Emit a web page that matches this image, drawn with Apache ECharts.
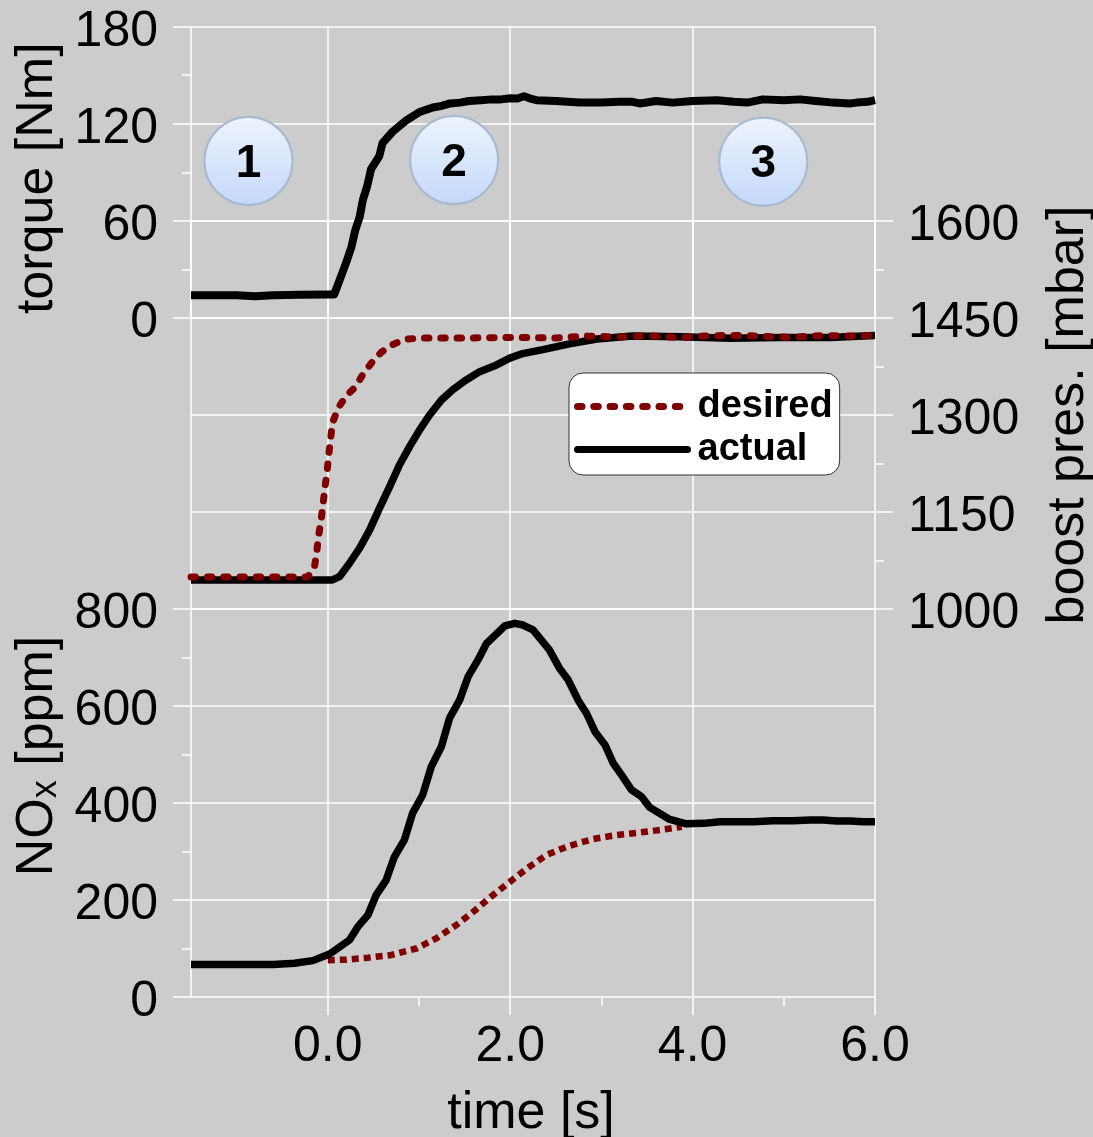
<!DOCTYPE html>
<html>
<head>
<meta charset="utf-8">
<style>html,body{margin:0;padding:0;background:#cccccc}#c{width:1093px;height:1137px}</style>
<script src="https://cdn.jsdelivr.net/npm/echarts@6/dist/echarts.min.js"></script>
</head>
<body>
<div id="c"></div>
<script>
const torqueT = [-1.5,-1.0,-0.8,-0.6,-0.3,0.0,0.07,0.15,0.2,0.26,0.3,0.35,0.385,0.43,0.475,0.565,0.6,0.71,0.86,1.0,1.15,1.25,1.34,1.45,1.55,1.68,1.8,1.9,2.0,2.08,2.15,2.22,2.29,2.5,2.76,3.0,3.2,3.34,3.42,3.6,3.78,4.0,4.27,4.45,4.6,4.77,5.0,5.18,5.35,5.54,5.72,5.8,5.92,6.0];
const torqueV = [14,14,13.5,14,14.3,14.5,14.5,26.5,34,44,54,62.5,73,81,92,100,108,115,122,127,130,131,132.5,133,134,134.5,135,135,135.7,135.5,137,135.5,134.5,134,133,133,133.5,133.5,132.5,134,133,134,134.5,133.5,133,135,134.5,135,134,133,132.5,133,133.5,134.5];
const boostDesiredT = [-1.5,-0.22,-0.146,-0.12,-0.1,-0.072,-0.05,-0.03,-0.007,0.01,0.03,0.05,0.114,0.198,0.307,0.39,0.487,0.586,0.714,0.84,1.007,1.5,2.03,2.5,2.84,3.17,3.53,3.86,4.19,4.54,5.07,5.43,5.78,6.0];
const boostDesiredV = [1049.5,1049.5,1065,1090,1114,1139,1164,1189,1214,1238,1262,1287,1311,1329,1344,1364,1382,1397,1409,1417,1419,1419,1420,1419,1422,1420.6,1422.6,1419.5,1422.6,1423,1420,1423,1422,1423.5];
const boostActualT = [-1.5,0.05,0.128,0.238,0.348,0.458,0.567,0.677,0.787,0.897,1.007,1.116,1.245,1.37,1.5,1.665,1.83,1.995,2.137,2.357,2.65,2.95,3.34,3.86,4.41,4.96,5.5,6.0];
const boostActualV = [1045,1045,1050,1070.7,1094,1122,1156,1189,1223,1251,1277,1300,1323,1339,1352.5,1367,1376,1388,1395,1401,1410,1417.5,1422,1421,1418.7,1420,1420,1423];
const noxDesiredT = [0.0,0.2,0.44,0.695,0.97,1.19,1.41,1.61,1.79,2.0,2.195,2.4,2.635,2.91,3.17,3.44,3.7,3.88];
const noxDesiredV = [76,77,81,86.6,100,121,148.5,178,207,238,266.6,293,311,325.8,334,339.6,345.8,351];
const noxActualT = [-1.5,-0.6,-0.365,-0.165,0.02,0.238,0.33,0.44,0.53,0.64,0.73,0.84,0.93,1.04,1.135,1.245,1.335,1.445,1.537,1.647,1.74,1.94,2.05,2.14,2.25,2.43,2.54,2.635,2.745,2.836,2.93,3.04,3.13,3.22,3.33,3.44,3.53,3.75,3.93,4.12,4.3,4.67,4.88,5.1,5.29,5.43,5.58,5.73,5.87,6.0];
const noxActualV = [67,67,69.5,75,88.7,117.5,145,169,210,241,289,324,379,416.5,475,516,575,612,660,695,729,765,770.5,767,757,715.5,678,654,612,585,547,519.6,482,458,427,413,391,366,357,358,361.5,361.5,363.5,363.5,365,365,363,363,361.5,361.5];
const timeTicks = [0,2,4,6];
const timeMinor = [1,3,5];
const timeEdge = -1.5;
const timeEnd = 6;
const torqueTicks = [0,60,120,180];
const torqueMinor = [30,90,150];
const boostTicks = [1000,1150,1300,1450,1600];
const boostMinor = [1075,1225,1375,1525];
const noxTicks = [0,200,400,600,800];
const noxMinor = [100,300,500,700];
const phaseLabels = ['1','2','3'];
const phaseT = [-0.87,1.385,4.775];
const phaseTorque = [97,97.5,96.5];

const zip = (a,b) => a.map((v,i)=>[v,b[i]]);
const WHITE = '#ffffff';
const FS = 50;
const NS = 52;
const FONT = '"Liberation Sans", Arial, sans-serif';

function vLines(gridIndex){
  return {type:'value',gridIndex,min:timeEdge,max:timeEnd,
    axisLine:{show:false,onZero:false},axisLabel:{show:false},
    axisTick:{show:false,customValues:[timeEdge].concat(timeTicks)},
    splitLine:{show:true,showMinLine:true,showMaxLine:true,lineStyle:{color:WHITE,width:1.5}}};
}
function yMain(gridIndex,min,max,ticks,position,extra){
  return Object.assign({type:'value',gridIndex,min,max,position,
    axisLine:{show:false,onZero:false},
    axisTick:{show:true,length:18,customValues:ticks,lineStyle:{color:WHITE,width:1.5}},
    axisLabel:{show:true,customValues:ticks,color:'#000',fontSize:FS,fontFamily:FONT,margin:33,verticalAlign:'top',lineHeight:11,hideOverlap:false,showMinLabel:true,showMaxLabel:true,formatter:v=>String(v)},
    splitLine:{show:true,showMinLine:true,showMaxLine:true,lineStyle:{color:WHITE,width:1.5}},
    nameLocation:'middle',nameRotate:90},extra);
}
function yMinor(gridIndex,min,max,ticks,position){
  return {type:'value',gridIndex,min,max,position,
    axisLine:{show:false,onZero:false},axisLabel:{show:false},splitLine:{show:false},
    axisTick:{show:true,length:9,customValues:ticks,lineStyle:{color:WHITE,width:1.5}}};
}

const option = {
  backgroundColor:'#cccccc',
  animation:false,
  textStyle:{fontFamily:FONT},
  grid:[
    {left:191,right:218,top:26.5,height:291.5,outerBoundsMode:'none'},
    {left:191,right:218,top:221,height:388,outerBoundsMode:'none'},
    {left:191,right:218,top:609,height:388,outerBoundsMode:'none'}
  ],
  xAxis:[
    vLines(0),vLines(1),vLines(2),
    {type:'value',gridIndex:2,min:timeEdge,max:timeEnd,position:'bottom',
      axisLine:{show:false,onZero:false},splitLine:{show:false},
      axisTick:{show:true,length:18,customValues:timeTicks,lineStyle:{color:WHITE,width:1.5}},
      axisLabel:{show:true,customValues:timeTicks,color:'#000',fontSize:FS,fontFamily:FONT,margin:25,formatter:v=>Number(v).toFixed(1)},
      name:'time [s]',nameLocation:'middle',nameGap:91,
      nameTextStyle:{color:'#000',fontSize:NS,fontFamily:FONT,padding:[0,4,0,0]}},
    {type:'value',gridIndex:2,min:timeEdge,max:timeEnd,position:'bottom',
      axisLine:{show:false,onZero:false},splitLine:{show:false},axisLabel:{show:false},
      axisTick:{show:true,length:9,customValues:timeMinor,lineStyle:{color:WHITE,width:1.5}}}
  ],
  yAxis:[
    yMain(0,0,180,torqueTicks,'left',{name:'torque [Nm]',nameGap:121,
      nameTextStyle:{color:'#000',fontSize:NS,fontFamily:FONT,padding:[0,12,0,0]}}),
    yMinor(0,0,180,torqueMinor,'left'),
    yMain(1,1000,1600,boostTicks,'right',{name:'boost pres. [mbar]',nameGap:168,
      nameTextStyle:{color:'#000',fontSize:NS,fontFamily:FONT}}),
    yMinor(1,1000,1600,boostMinor,'right'),
    yMain(2,0,800,noxTicks,'left',{name:'{n|NO}{s|x}{n| [ppm]}',nameGap:127,
      nameTextStyle:{color:'#000',fontSize:NS,fontFamily:FONT,padding:[0,0,0,94],
        rich:{n:{fontSize:NS,fontFamily:FONT,color:'#000'},s:{fontSize:36,fontFamily:FONT,color:'#000',verticalAlign:'bottom',padding:[16,0,0,0]}}}}),
    yMinor(2,0,800,noxMinor,'left')
  ],
  legend:{
    show:true,left:569,top:373,orient:'vertical',
    data:['desired','actual'],
    backgroundColor:'#ffffff',borderColor:'#333333',borderWidth:1,borderRadius:14,
    padding:[12,7,4,5],itemWidth:110,itemHeight:14,itemGap:0,align:'left',
    selectedMode:false,z:20,
    itemStyle:{opacity:0},
    lineStyle:{width:7,cap:'round'},
    textStyle:{color:'#000',fontSize:38,fontWeight:'bold',fontFamily:FONT,lineHeight:43,padding:[0,0,0,5]}
  },
  series:[
    {name:'torque',type:'line',xAxisIndex:0,yAxisIndex:0,data:zip(torqueT,torqueV),showSymbol:false,symbol:'none',
      lineStyle:{color:'#000',width:8,join:'round'},itemStyle:{color:'#000'},z:3},
    {name:'actual',type:'line',xAxisIndex:1,yAxisIndex:2,data:zip(boostActualT,boostActualV),showSymbol:false,symbol:'none',
      lineStyle:{color:'#000',width:7.5,join:'round'},itemStyle:{color:'#000'},z:3},
    {name:'desired',type:'line',xAxisIndex:1,yAxisIndex:2,data:zip(boostDesiredT,boostDesiredV),showSymbol:false,symbol:'none',
      lineStyle:{color:'#800000',width:7,type:[4.5,11.8],cap:'round',join:'round'},itemStyle:{color:'#800000'},z:4},
    {name:'NOx desired',type:'line',xAxisIndex:2,yAxisIndex:4,data:zip(noxDesiredT,noxDesiredV),showSymbol:false,symbol:'none',
      lineStyle:{color:'#800000',width:6.5,type:[7,5],cap:'butt'},itemStyle:{color:'#800000'},z:3},
    {name:'NOx actual',type:'line',xAxisIndex:2,yAxisIndex:4,data:zip(noxActualT,noxActualV),showSymbol:false,symbol:'none',
      lineStyle:{color:'#000',width:7.5,join:'round'},itemStyle:{color:'#000'},z:4},
    {name:'phases',type:'scatter',xAxisIndex:0,yAxisIndex:0,z:6,symbol:'circle',symbolSize:88,
      data:phaseT.map((t,i)=>({value:[t,phaseTorque[i]],name:phaseLabels[i]})),
      itemStyle:{color:new echarts.graphic.LinearGradient(0,0,0,1,[{offset:0,color:'#eef4fe'},{offset:1,color:'#c4d8f8'}]),borderColor:'#a6b9d2',borderWidth:2,opacity:1},
      label:{show:true,position:'inside',offset:[0,3],formatter:p=>p.name,color:'#000',fontSize:46,fontWeight:'bold',fontFamily:FONT}}
  ]
};
const chart = echarts.init(document.getElementById('c'),null,{renderer:'canvas',width:1093,height:1137});
chart.setOption(option);
</script>
</body>
</html>
